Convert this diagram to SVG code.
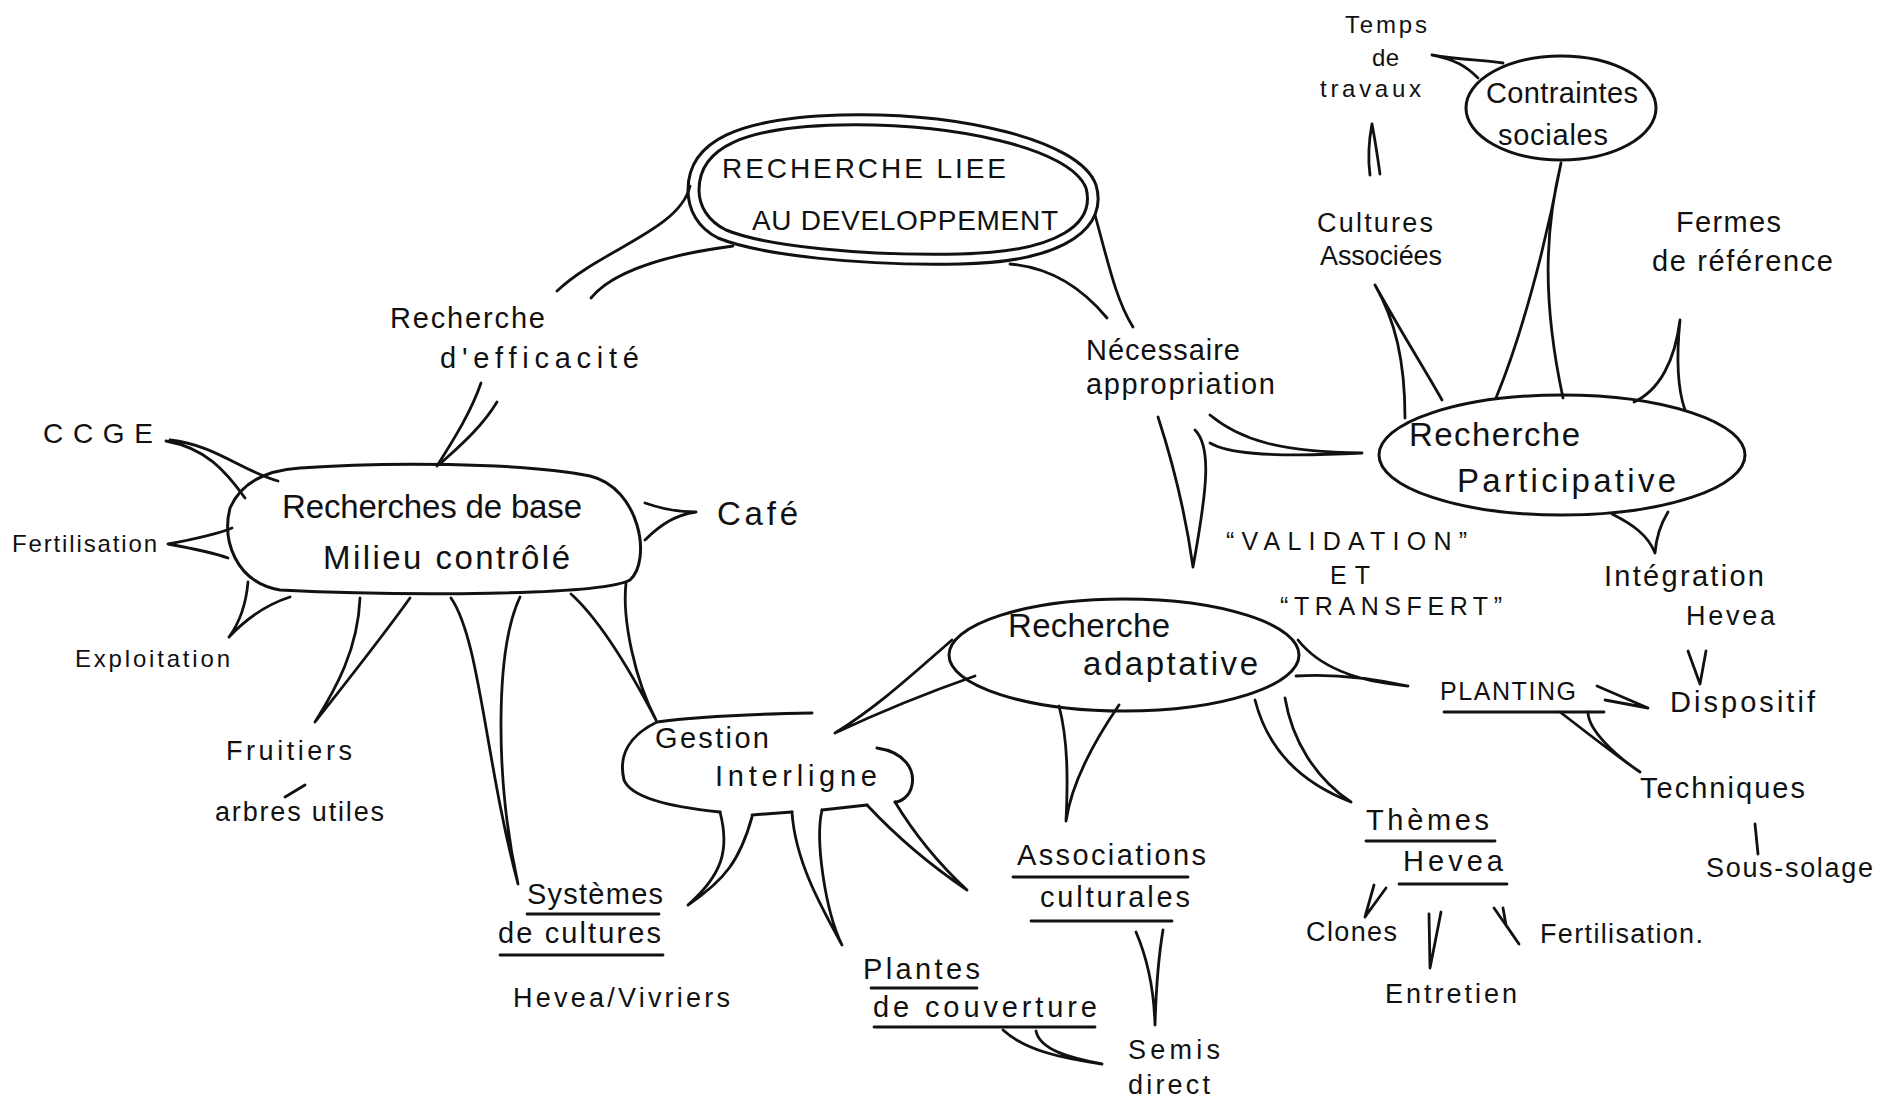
<svg xmlns="http://www.w3.org/2000/svg" width="1891" height="1113" viewBox="0 0 1891 1113">
<style>
.ln{fill:none;stroke:#111;stroke-width:2.8;stroke-linecap:round;stroke-linejoin:round}
.nd{fill:none;stroke:#111;stroke-width:3;stroke-linecap:round}
.t{font-family:"Liberation Sans","DejaVu Sans",sans-serif;fill:#111}
.s22{font-size:24px}.s25{font-size:27px}.s27{font-size:29px}.s30{font-size:33px}
.cap{font-size:28px}.cap2{font-size:25px}
</style>
<rect width="1891" height="1113" fill="#fff"/>
<g id="connectors">
<path class="ln" d="M 690 186 C 680 230, 600 250, 557 291 M 733 246 C 665 255, 612 272, 591 298"/>
<path class="ln" d="M 1095 215 C 1108 262, 1116 300, 1133 327 M 1010 264 C 1058 268, 1088 295, 1107 318"/>
<path class="ln" d="M 481 383 C 470 415, 450 445, 437 466 M 497 402 C 480 430, 455 450, 440 464"/>
<path class="ln" d="M 166 441 C 205 448, 225 470, 245 498 M 170 440 C 215 445, 240 470, 278 481"/>
<path class="ln" d="M 168 544 C 190 540, 215 535, 232 528 M 168 544 C 190 548, 212 552, 228 558"/>
<path class="ln" d="M 645 503 C 665 510, 680 512, 696 512 M 645 540 C 660 525, 675 515, 696 512"/>
<path class="ln" d="M 248 582 C 246 605, 240 622, 229 637 M 290 597 C 265 605, 245 620, 229 637"/>
<path class="ln" d="M 360 598 C 358 650, 335 690, 315 722 M 410 598 C 380 640, 340 690, 315 722"/>
<path class="ln" d="M 451 598 C 480 640, 485 760, 518 884 M 520 597 C 495 650, 495 780, 518 884"/>
<path class="ln" d="M 571 594 C 600 620, 630 670, 656 720 M 626 583 C 622 620, 635 680, 656 720"/>
<path class="ln" d="M 952 640 C 915 672, 880 705, 835 733 M 975 676 C 935 690, 880 712, 835 733"/>
<path class="ln" d="M 1059 706 C 1068 740, 1068 780, 1066 821 M 1119 705 C 1095 740, 1072 780, 1066 821"/>
<path class="ln" d="M 1255 700 C 1268 750, 1300 782, 1351 802 M 1285 698 C 1292 740, 1315 778, 1351 802"/>
<path class="ln" d="M 1298 640 C 1320 668, 1360 682, 1408 686 M 1296 676 C 1340 673, 1380 680, 1408 686"/>
<path class="ln" d="M 720 812 C 730 850, 722 875, 688 905 M 752 817 C 740 860, 725 880, 688 905"/>
<path class="ln" d="M 792 812 C 795 860, 820 905, 842 945 M 822 810 C 815 840, 825 910, 842 945"/>
<path class="ln" d="M 867 805 C 895 835, 930 865, 967 890 M 895 802 C 915 835, 940 865, 967 890"/>
<path class="ln" d="M 1136 932 C 1148 960, 1154 990, 1155 1025 M 1163 930 C 1158 960, 1156 990, 1155 1025"/>
<path class="ln" d="M 1003 1030 C 1025 1050, 1060 1058, 1102 1064 M 1036 1031 C 1040 1050, 1070 1058, 1102 1064"/>
<path class="ln" d="M 1374 885 L 1365 917 M 1386 888 L 1365 917"/>
<path class="ln" d="M 1429 914 L 1430 968 M 1441 912 L 1430 968"/>
<path class="ln" d="M 1494 908 L 1519 944 M 1503 908 L 1506 925 L 1519 944"/>
<path class="ln" d="M 1597 686 L 1648 708 M 1605 700 L 1648 708"/>
<path class="ln" d="M 1560 712 C 1590 735, 1615 755, 1640 772 M 1588 712 C 1588 730, 1615 755, 1640 772"/>
<path class="ln" d="M 1755 824 L 1758 854"/>
<path class="ln" d="M 1688 651 L 1700 684 M 1706 651 L 1700 684"/>
<path class="ln" d="M 1612 514 C 1632 524, 1648 535, 1655 553 M 1668 512 C 1660 525, 1656 540, 1655 553"/>
<path class="ln" d="M 1375 285 C 1400 330, 1425 370, 1442 400 M 1375 285 C 1395 320, 1405 360, 1405 418"/>
<path class="ln" d="M 1561 163 C 1545 250, 1520 340, 1496 398 M 1561 163 C 1545 230, 1542 300, 1563 398"/>
<path class="ln" d="M 1680 320 C 1675 360, 1660 390, 1634 402 M 1680 320 C 1676 360, 1678 390, 1685 410"/>
<path class="ln" d="M 1432 55 C 1455 60, 1465 65, 1478 78 M 1432 55 C 1460 60, 1485 60, 1503 63"/>
<path class="ln" d="M 1372 124 C 1368 145, 1368 160, 1370 175 M 1372 124 C 1376 145, 1378 160, 1380 174"/>
<path class="ln" d="M 1158 417 C 1172 460, 1185 510, 1193 567 M 1195 430 C 1212 447, 1207 490, 1193 567"/>
<path class="ln" d="M 1210 415 C 1240 440, 1280 452, 1362 453 M 1210 443 C 1225 452, 1260 458, 1362 453"/>
<path class="ln" d="M 285 797 L 305 785"/>
</g>
<g id="main">
<path class="nd" d="M 688 190 C 688 140, 740 118, 840 115 C 960 112, 1080 140, 1096 185 C 1108 225, 1070 262, 960 264 C 860 266, 760 255, 718 238 C 698 228, 688 210, 688 190 Z"/>
<path class="nd" d="M 699 190 C 699 147, 745 127, 840 125 C 955 123, 1070 148, 1086 188 C 1095 222, 1062 252, 960 254 C 862 256, 765 246, 726 230 C 708 221, 699 206, 699 190 Z"/>
<text class="t cap" x="722" y="178" textLength="284">RECHERCHE LIEE</text>
<text class="t cap" x="752" y="230" textLength="306">AU DEVELOPPEMENT</text>
</g>
<g id="base">
<path class="nd" d="M 300 468 C 380 462, 520 462, 590 476 C 640 488, 652 560, 630 580 C 600 596, 400 596, 280 590 C 235 582, 222 540, 230 508 C 242 480, 270 470, 300 468 Z"/>
<text class="t s30" x="282" y="518" textLength="300">Recherches de base</text>
<text class="t s30" x="323" y="569" textLength="247">Milieu contrôlé</text>
</g>
<g id="gestion">
<path class="nd" d="M 812 713 C 760 714, 700 716, 657 722 C 630 735, 618 755, 624 780 C 632 800, 680 808, 720 812 M 752 815 L 792 812 M 822 810 L 867 805 M 877 748 C 905 752, 915 770, 912 785 C 910 797, 900 802, 895 802"/>
<text class="t s27" x="655" y="748" textLength="114">Gestion</text>
<text class="t s27" x="715" y="786" textLength="162">Interligne</text>
</g>
<g id="adaptative">
<ellipse class="nd" cx="1124" cy="655" rx="175" ry="56"/>
<text class="t s30" x="1008" y="637" textLength="162">Recherche</text>
<text class="t s30" x="1083" y="675" textLength="175">adaptative</text>
</g>
<g id="participative">
<ellipse class="nd" cx="1562" cy="455" rx="183" ry="60"/>
<text class="t s30" x="1409" y="446" textLength="171">Recherche</text>
<text class="t s30" x="1457" y="492" textLength="219">Participative</text>
</g>
<g id="contraintes">
<ellipse class="nd" cx="1561" cy="108" rx="95" ry="52"/>
<text class="t s27" x="1486" y="103" textLength="152">Contraintes</text>
<text class="t s27" x="1498" y="145" textLength="110">sociales</text>
</g>
<g id="efficacite">
<text class="t s27" x="390" y="328" textLength="155">Recherche</text>
<text class="t s27" x="440" y="368" textLength="199">d'efficacité</text>
</g>
<g id="ccge"><text class="t cap" x="43" y="443" textLength="110">CCGE</text></g>
<g id="fertil-left"><text class="t s22" x="12" y="552" textLength="145">Fertilisation</text></g>
<g id="cafe"><text class="t s30" x="717" y="525" textLength="81">Café</text></g>
<g id="exploitation"><text class="t s22" x="75" y="667" textLength="155">Exploitation</text></g>
<g id="fruitiers">
<text class="t s25" x="226" y="760" textLength="126">Fruitiers</text>
<text class="t s25" x="215" y="821" textLength="169">arbres utiles</text>
</g>
<g id="systemes">
<text class="t s27" x="527" y="904" textLength="136">Systèmes</text>
<line class="ln" x1="527" y1="914" x2="659" y2="914"/>
<text class="t s27" x="498" y="943" textLength="163">de cultures</text>
<line class="ln" x1="500" y1="955" x2="663" y2="955"/>
<text class="t s25" x="513" y="1007" textLength="217">Hevea/Vivriers</text>
</g>
<g id="plantes">
<text class="t s27" x="863" y="979" textLength="117">Plantes</text>
<line class="ln" x1="871" y1="988" x2="977" y2="988"/>
<text class="t s27" x="873" y="1017" textLength="224">de couverture</text>
<line class="ln" x1="874" y1="1027" x2="1095" y2="1027"/>
</g>
<g id="associations">
<text class="t s27" x="1017" y="865" textLength="189">Associations</text>
<line class="ln" x1="1013" y1="877" x2="1188" y2="877"/>
<text class="t s27" x="1040" y="907" textLength="150">culturales</text>
<line class="ln" x1="1031" y1="921" x2="1172" y2="921"/>
</g>
<g id="semis">
<text class="t s25" x="1128" y="1059" textLength="92">Semis</text>
<text class="t s25" x="1128" y="1094" textLength="82">direct</text>
</g>
<g id="themes">
<text class="t s27" x="1366" y="830" textLength="123">Thèmes</text>
<line class="ln" x1="1366" y1="841" x2="1495" y2="841"/>
<text class="t s27" x="1403" y="871" textLength="100">Hevea</text>
<line class="ln" x1="1399" y1="884" x2="1507" y2="884"/>
</g>
<g id="clones"><text class="t s25" x="1306" y="941" textLength="91">Clones</text></g>
<g id="entretien"><text class="t s25" x="1385" y="1003" textLength="132">Entretien</text></g>
<g id="fertil-right"><text class="t s25" x="1540" y="943" textLength="163">Fertilisation.</text></g>
<g id="planting">
<text class="t cap2" x="1440" y="700" textLength="136">PLANTING</text>
<line class="ln" x1="1444" y1="712" x2="1604" y2="712"/>
</g>
<g id="dispositif"><text class="t s27" x="1670" y="712" textLength="145">Dispositif</text></g>
<g id="techniques"><text class="t s27" x="1640" y="798" textLength="165">Techniques</text></g>
<g id="soussolage"><text class="t s25" x="1706" y="877" textLength="167">Sous-solage</text></g>
<g id="integration">
<text class="t s27" x="1604" y="586" textLength="160">Intégration</text>
<text class="t s25" x="1686" y="625" textLength="89">Hevea</text>
</g>
<g id="validation">
<text class="t cap2" x="1226" y="550" textLength="241">“VALIDATION”</text>
<text class="t cap2" x="1330" y="584" textLength="40">ET</text>
<text class="t cap2" x="1280" y="615" textLength="222">“TRANSFERT”</text>
</g>
<g id="necessaire">
<text class="t s27" x="1086" y="360" textLength="154">Nécessaire</text>
<text class="t s27" x="1086" y="394" textLength="189">appropriation</text>
</g>
<g id="cultures">
<text class="t s25" x="1317" y="232" textLength="116">Cultures</text>
<text class="t s25" x="1320" y="265" textLength="122">Associées</text>
</g>
<g id="temps">
<text class="t s22" x="1345" y="33" textLength="82">Temps</text>
<text class="t s22" x="1372" y="66" textLength="27">de</text>
<text class="t s22" x="1320" y="97" textLength="101">travaux</text>
</g>
<g id="fermes">
<text class="t s27" x="1676" y="232" textLength="105">Fermes</text>
<text class="t s27" x="1652" y="271" textLength="181">de référence</text>
</g>
</svg>
